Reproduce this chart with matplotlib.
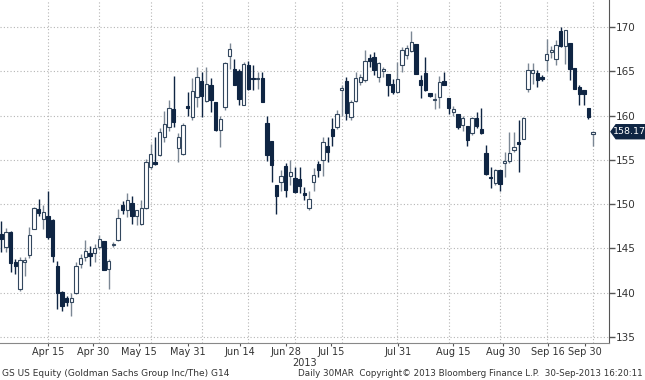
import matplotlib
matplotlib.use("Agg")
import matplotlib.pyplot as plt
from matplotlib.patches import Polygon

# daily GS candles, 1 Apr 2013 .. 30 Sep 2013 (index 0 = Apr 15)
opens = [146.65, 145.1, 146.8, 143.5, 140.4, 143.5, 144.2, 147.2, 149.4, 148.3,
         148.7, 148.2, 143.0, 140.1, 139.4, 138.9, 140.0, 143.2, 144.0, 144.45,
         144.45, 145.1, 145.8, 142.7, 145.4, 145.9, 149.9, 149.3, 150.1, 148.7,
         147.8, 149.6, 154.2, 154.8, 155.5, 157.6, 158.7, 160.7, 156.3, 155.6,
         161.0, 159.8, 162.1, 163.9, 161.6, 163.4, 161.5, 158.4, 161.0, 166.7,
         165.3, 165.0, 161.2, 165.75, 164.2, 164.1, 164.2, 159.2, 157.1, 152.1,
         152.5, 154.3, 153.2, 152.9, 152.8, 151.3, 149.5, 152.5, 154.5, 155.0,
         156.6, 158.5, 158.7, 162.9, 163.9, 159.8, 161.6, 163.8, 164.0, 166.5,
         166.6, 164.4, 165.0, 164.7, 163.6, 162.6, 165.7, 166.8, 167.3, 168.1,
         164.0, 164.8, 162.5, 161.8, 162.1, 163.9, 162.0, 160.4, 160.2, 158.9,
         158.8, 158.0, 159.7, 158.5, 155.8, 153.1, 152.4, 153.9, 154.6, 154.9,
         156.1, 157.0, 157.4, 163.0, 164.8, 164.8, 164.4, 166.3, 167.2, 166.4,
         169.6, 167.9, 168.2, 165.4, 163.2, 162.9, 160.8, 157.9]
highs = [148.1, 147.3, 146.9, 143.8, 144.0, 144.0, 147.4, 149.7, 150.6, 149.9,
         151.5, 148.3, 143.6, 140.2, 139.6, 140.0, 143.4, 144.4, 145.9, 145.3,
         145.5, 146.5, 145.8, 143.8, 145.7, 149.4, 150.3, 151.3, 150.9, 149.3,
         150.5, 155.1, 156.8, 157.6, 158.6, 160.5, 161.7, 164.5, 158.0, 159.1,
         162.7, 164.2, 165.5, 164.9, 165.5, 164.2, 161.5, 160.0, 166.1, 168.2,
         166.4, 165.3, 166.1, 166.2, 165.7, 164.9, 164.9, 160.0, 157.1, 152.1,
         153.8, 154.6, 155.0, 154.2, 154.2, 151.9, 151.5, 154.1, 154.9, 157.6,
         157.6, 159.7, 160.6, 163.4, 164.4, 161.7, 164.9, 164.7, 167.4, 167.0,
         167.2, 166.0, 165.5, 164.7, 164.1, 166.1, 167.7, 168.0, 169.6, 168.1,
         164.6, 166.6, 162.5, 162.5, 164.5, 164.9, 162.0, 161.1, 160.2, 159.9,
         158.8, 159.8, 160.4, 160.8, 156.7, 154.2, 154.0, 153.9, 155.9, 158.1,
         158.1, 159.5, 159.8, 165.9, 165.9, 165.1, 164.6, 168.7, 167.9, 168.5,
         170.0, 169.7, 168.2, 165.4, 163.4, 162.9, 160.9, 158.3]
lows = [144.6, 144.6, 142.3, 142.1, 140.2, 141.9, 143.9, 147.2, 148.6, 147.2,
        146.0, 143.5, 138.1, 137.9, 138.5, 137.3, 139.8, 142.8, 143.6, 143.0,
        143.5, 144.9, 142.5, 140.4, 145.2, 145.8, 148.9, 148.5, 147.8, 147.6,
        147.6, 149.45, 154.0, 154.4, 155.4, 157.0, 158.3, 158.7, 154.7, 155.5,
        160.0, 159.5, 161.0, 159.8, 161.5, 160.4, 158.3, 156.4, 160.6, 165.3,
        163.4, 161.2, 161.2, 162.85, 162.85, 163.0, 161.5, 154.9, 152.5, 148.9,
        151.5, 150.8, 152.1, 151.3, 151.3, 150.5, 149.3, 151.5, 153.0, 153.2,
        154.7, 156.6, 158.5, 160.0, 159.5, 159.5, 161.5, 163.4, 163.8, 165.5,
        164.6, 163.8, 164.4, 162.2, 162.4, 162.5, 164.9, 166.4, 167.2, 164.7,
        162.0, 162.8, 162.1, 160.7, 160.9, 163.4, 160.2, 160.0, 158.5, 158.3,
        156.6, 157.8, 158.6, 157.9, 153.3, 151.8, 152.1, 151.5, 153.0, 154.6,
        155.9, 153.6, 157.3, 162.7, 163.6, 163.2, 163.9, 165.0, 166.5, 165.7,
        167.7, 165.8, 164.0, 163.0, 161.2, 161.2, 159.6, 156.6]
closes = [146.1, 146.8, 143.35, 143.0, 143.7, 143.7, 146.5, 149.5, 149.0, 149.1,
          146.3, 144.1, 140.0, 138.5, 138.9, 139.4, 143.0, 143.9, 144.75, 144.1,
          145.0, 146.0, 142.6, 143.6, 145.45, 148.4, 149.3, 150.4, 148.7, 149.3,
          149.6, 154.7, 155.7, 154.5, 158.1, 159.0, 160.8, 159.3, 157.6, 158.9,
          160.9, 162.8, 164.4, 162.2, 163.6, 161.8, 158.4, 159.6, 165.9, 167.5,
          163.4, 161.9, 165.8, 163.0, 164.1, 164.15, 161.5, 155.5, 154.4, 150.9,
          153.2, 151.6, 153.6, 151.4, 152.0, 151.0, 150.6, 153.3, 153.9, 157.0,
          155.9, 157.7, 160.2, 163.1, 160.3, 161.5, 164.2, 164.4, 166.2, 166.2,
          165.1, 165.9, 165.3, 163.4, 162.6, 164.1, 167.4, 167.6, 168.3, 164.7,
          163.4, 162.9, 162.2, 161.85, 163.8, 163.4, 160.8, 160.7, 158.7, 159.7,
          157.2, 159.7, 158.8, 158.0, 153.4, 152.9, 153.8, 152.3, 154.9, 155.8,
          156.4, 156.8, 159.7, 165.1, 165.1, 164.0, 164.1, 167.0, 167.4, 168.0,
          167.8, 169.7, 165.3, 163.0, 162.4, 162.4, 159.8, 158.17]
first_index = -10

date_labels = ["Apr 15", "Apr 30", "May 15", "May 31", "Jun 14", "Jun 28",
               "Jul 15", "Jul 31", "Aug 15", "Aug 30", "Sep 16", "Sep 30"]
date_index = [0, 11, 22, 33, 43, 53, 63, 75, 86, 97, 107, 117]
label_pos = [0, 9.7, 19.5, 30, 41.2, 51.1, 60.7, 75.1, 86.9, 97.6, 107.3, 115.2]
price_ticks = [135, 140, 145, 150, 155, 160, 165, 170]
last_price = 158.17

navy = "#0f2543"
edge = "#33475e"
wick_up = "#7b8794"
W, H = 645, 380

fig = plt.figure(figsize=(W / 100, H / 100), dpi=100)
ax = fig.add_axes([0.0, 1 - 343 / H, 609 / W, 343 / H])

xs = list(range(first_index, first_index + len(opens)))
for x, o, h, l, c in zip(xs, opens, highs, lows, closes):
    up = c >= o
    ax.vlines(x, l, h, color=wick_up if up else navy, linewidth=1.0, zorder=2)
    bottom = min(o, c)
    height = max(abs(c - o), 0.12)
    ax.bar(x, height, bottom=bottom, width=0.72,
           facecolor="white" if up else navy, edgecolor=edge if up else navy,
           linewidth=0.8, zorder=3)

ax.set_xlim(-10.3, 120.4)
ax.set_ylim(134.3, 173.05)

for p in price_ticks:
    ax.axhline(p, color="#b5b5b5", linewidth=0.8, linestyle=(0, (1, 2)), zorder=1)
for d in date_index:
    ax.axvline(d, color="#b5b5b5", linewidth=0.8, linestyle=(0, (1, 2)), zorder=1)

ax.yaxis.tick_right()
ax.set_yticks(price_ticks)
ax.set_yticklabels([str(p) for p in price_ticks])
ax.tick_params(axis="y", direction="out", length=4, width=1, color="#555555",
               labelsize=7.5, labelcolor="#333333", pad=1)
ax.set_xticks(label_pos)
ax.set_xticklabels(date_labels)
ax.tick_params(axis="x", direction="out", length=2, width=0.8, color="#555555",
               labelsize=7, labelcolor="#333333", pad=1)

for s in ["top", "left"]:
    ax.spines[s].set_visible(False)
ax.spines["right"].set_color("#555555")
ax.spines["bottom"].set_color("#888888")
ax.spines["bottom"].set_linewidth(0.8)

# last price tag on the right axis
py = ax.transData.transform((0, last_price))[1] / H
tag = [(611, 0), (616, 7), (645, 7), (645, -7), (616, -7)]
pts = [(px / W, py + dy / H) for px, dy in tag]
fig.patches.append(Polygon(pts, closed=True, transform=fig.transFigure,
                           facecolor=navy, edgecolor=navy, figure=fig))
fig.text(629 / W, py, f"{last_price:.2f}", ha="center", va="center",
         fontsize=6.8, color="white")

fig.text(305 / W, 1 - 363 / H, "2013", ha="center", va="center", fontsize=7, color="#333333")
fig.text(2 / W, 1 - 374 / H, "GS US Equity (Goldman Sachs Group Inc/The) G14",
         ha="left", va="center", fontsize=6.5, color="#333333")
fig.text(643 / W, 1 - 374 / H,
         "Daily 30MAR  Copyright\u00a9 2013 Bloomberg Finance L.P.  30-Sep-2013 16:20:11",
         ha="right", va="center", fontsize=6.3, color="#333333")

fig.savefig("out.png", dpi=100)
